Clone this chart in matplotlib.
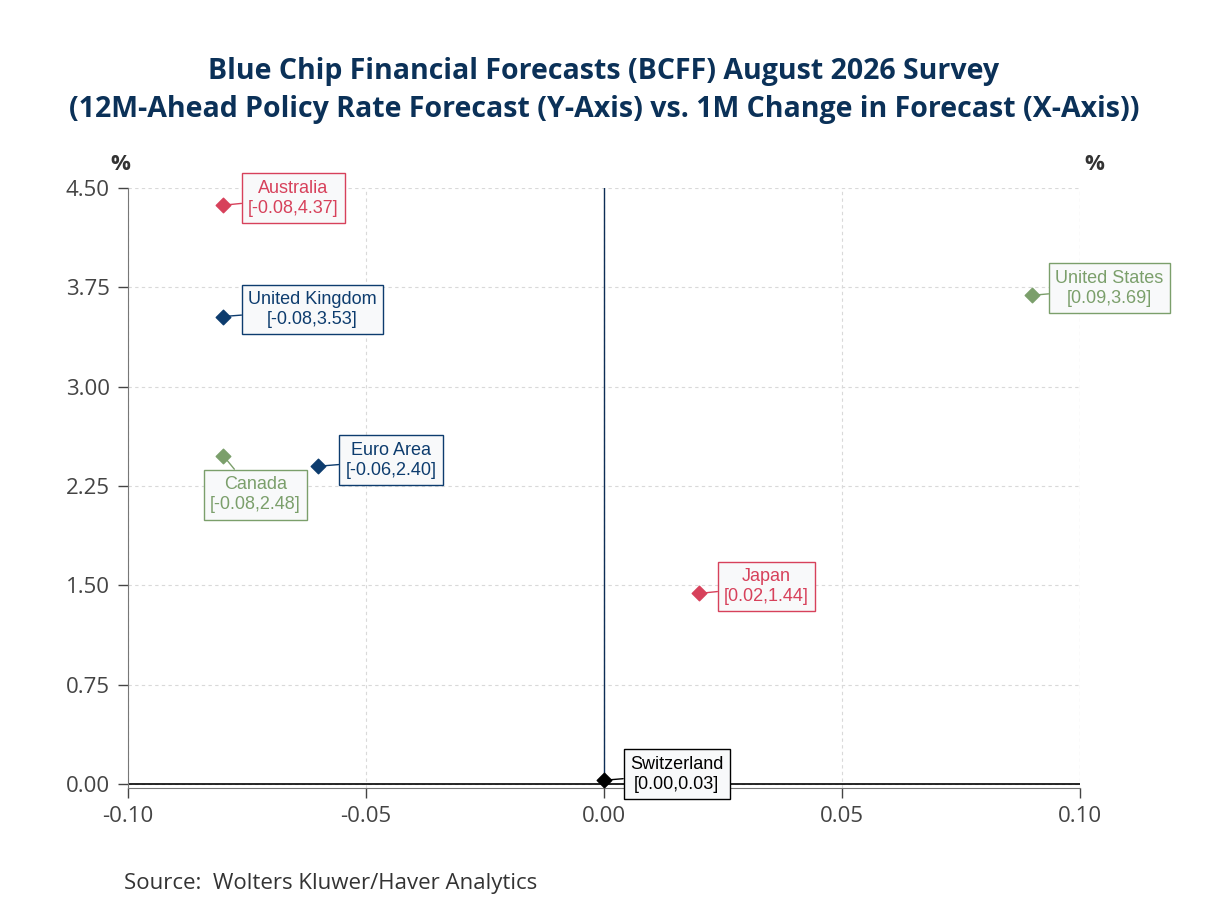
import matplotlib.pyplot as plt

countries = ["Australia", "United Kingdom", "Euro Area", "Canada", "Japan", "United States", "Switzerland"]
change_1m = [-0.08, -0.08, -0.06, -0.08, 0.02, 0.09, 0.00]
rate_12m = [4.37, 3.53, 2.40, 2.48, 1.44, 3.69, 0.03]
colors = ["#d7415b", "#0d3c6e", "#0d3c6e", "#7b9f6b", "#d7415b", "#7b9f6b", "#000000"]
# label offsets in pixels (dx, dy, ha)
offsets = [(25, 7, "left"), (25, 7, "left"), (27, 6, "left"), (32, -39, "center"),
           (25, 7, "left"), (23, 7, "left"), (26, 6, "left")]

xticks = [-0.10, -0.05, 0.00, 0.05, 0.10]
yticks = [0.00, 0.75, 1.50, 2.25, 3.00, 3.75, 4.50]

fig = plt.figure(figsize=(12.08, 9.06), dpi=100)
ax = fig.add_axes([0.106, 0.130, 0.788, 0.6625])

ax.axvline(0, color="#0d2d55", lw=1, zorder=2)
ax.axhline(0, color="black", lw=1.2, zorder=2)

for c, x, y, col, (dx, dy, ha) in zip(countries, change_1m, rate_12m, colors, offsets):
    ax.scatter(x, y, marker="D", s=55, color=col, zorder=4)
    ax.annotate(f"{c}\n[{x:.2f},{y:.2f}]", (x, y), xytext=(dx, dy), textcoords="offset pixels",
                ha=ha, va="center", multialignment="center", color=col,
                fontsize=13, family="Liberation Sans", zorder=5, linespacing=1.25,
                bbox=dict(boxstyle="square,pad=0.35", fc="#f8f9fa", ec=col, lw=1),
                arrowprops=dict(arrowstyle="-", color=col, lw=1, shrinkA=0, shrinkB=0))

ax.set_xlim(-0.10, 0.10)
ax.set_ylim(-0.03, 4.50)
ax.set_xticks(xticks)
ax.set_yticks(yticks)
ax.set_xticklabels([f"{t:.2f}" for t in xticks])
ax.set_yticklabels([f"{t:.2f}" for t in yticks])
ax.tick_params(labelsize=16, colors="#444444", length=7, width=1, pad=6)
for lab in ax.get_xticklabels() + ax.get_yticklabels():
    lab.set_family("Open Sans")
ax.grid(True, ls=(0, (3, 3)), color="#d9d9d9", lw=0.8)
ax.set_axisbelow(True)
ax.spines["top"].set_visible(False)
ax.spines["right"].set_visible(False)
ax.spines["left"].set_color("#777777")
ax.spines["bottom"].set_color("#777777")
ax.axvline(0.10, color="#d9d9d9", ls=(0, (3, 3)), lw=0.8, zorder=1)

fig.text(0.5, 0.921, "Blue Chip Financial Forecasts (BCFF) August 2026 Survey", ha="center", va="center",
         fontsize=20.5, fontweight="bold", color="#0b3158", family="Open Sans")
fig.text(0.5, 0.879, "(12M-Ahead Policy Rate Forecast (Y-Axis) vs. 1M Change in Forecast (X-Axis))", ha="center",
         va="center", fontsize=20.5, fontweight="bold", color="#0b3158", family="Open Sans")
fig.text(0.091, 0.818, "%", ha="left", va="center", fontsize=16, fontweight="bold", color="#333333", family="Open Sans")
fig.text(0.906, 0.818, "%", ha="center", va="center", fontsize=16, fontweight="bold", color="#333333", family="Open Sans")
fig.text(0.103, 0.025, "Source:  Wolters Kluwer/Haver Analytics", ha="left", va="center", fontsize=16,
         color="#333333", family="Open Sans")

fig.savefig("out.png", dpi=100)
